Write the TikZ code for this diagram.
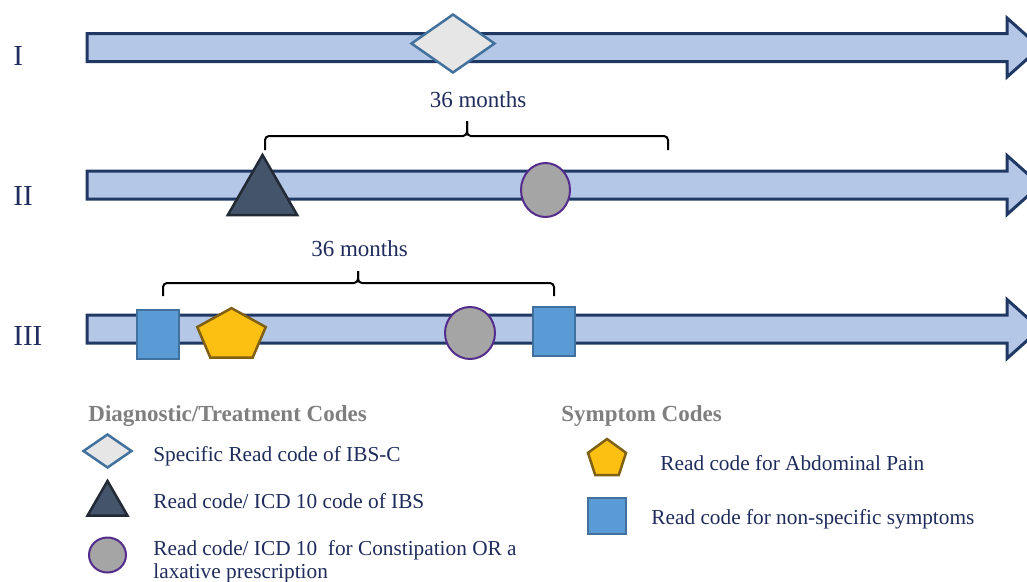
\documentclass[tikz,border=0pt]{standalone}
\usepackage{fontspec}
\setmainfont{Liberation Serif}
\usetikzlibrary{shapes, positioning}
\definecolor{barfill}{RGB}{180,199,231}
\definecolor{bardraw}{RGB}{32,56,100}
\definecolor{navy}{RGB}{31,44,92}
\definecolor{headgrey}{RGB}{127,127,127}
\definecolor{diamfill}{RGB}{231,230,230}
\definecolor{bluedraw}{RGB}{65,113,156}
\definecolor{trifill}{RGB}{68,84,106}
\definecolor{tridraw}{RGB}{34,42,53}
\definecolor{circfill}{RGB}{165,165,165}
\definecolor{circdraw}{RGB}{84,44,140}
\definecolor{pentfill}{RGB}{252,192,18}
\definecolor{pentdraw}{RGB}{127,96,20}
\definecolor{sqfill}{RGB}{91,155,213}
\tikzstyle{bar}=[draw=bardraw, fill=barfill, line width=3pt, line join=miter]
\tikzstyle{ibsc}=[diamond, draw=bluedraw, fill=diamfill, line width=2.5pt, inner sep=0pt]
\tikzstyle{ibs}=[regular polygon, regular polygon sides=3, draw=tridraw, fill=trifill, line width=2.5pt, inner sep=0pt]
\tikzstyle{constip}=[ellipse, draw=circdraw, fill=circfill, line width=2pt, inner sep=0pt]
\tikzstyle{pain}=[regular polygon, regular polygon sides=5, draw=pentdraw, fill=pentfill, line width=2.5pt, inner sep=0pt]
\tikzstyle{nonspec}=[rectangle, draw=bluedraw, fill=sqfill, line width=2.5pt, inner sep=0pt]
\tikzstyle{brace}=[draw=black, line width=2pt, rounded corners=4pt]
\tikzstyle{txt}=[text=navy, inner sep=0pt, anchor=base west, font=\fontsize{21.3}{25}\selectfont]
\tikzstyle{months}=[text=navy, inner sep=0pt, anchor=base, font=\fontsize{23}{27}\selectfont]
\tikzstyle{rowlab}=[text=navy, inner sep=0pt, anchor=base west, font=\fontsize{29}{33}\selectfont]
\tikzstyle{legtitle}=[text=headgrey, inner sep=0pt, anchor=base west, font=\fontsize{23}{27}\selectfont\bfseries]

\begin{document}
\begin{tikzpicture}[x=1pt, y=-1pt, thick]
\useasboundingbox (0,0) rectangle (1027,581);
%\draw[red] (0,0) rectangle (1027,581);
\foreach \y in {47.5, 185, 329}
  \draw[bar] (87,\y-14) -- (1007,\y-14) -- (1007,\y-29.5) -- (1040,\y) -- (1007,\y+29.5) -- (1007,\y+14) -- (87,\y+14) -- cycle;
\node[rowlab] (r1) at (13,65) {I};
\node[rowlab] (r2) at (13,205) {II};
\node[rowlab] (r3) at (13,345) {III};
% row I
\node[ibsc, minimum width=84pt, minimum height=59pt] (d1) at (453,43.5){};
% row II
\node[months] (m2) at (478,107) {36 months};
\coordinate (b2l) at (265,150); \coordinate (b2c) at (467,136);
\coordinate (b2m) at (467,121); \coordinate (b2r) at (668,150);
\draw[brace] (b2l) |- (b2c) -- (b2m);
\draw[brace] (b2m) -- (b2c) -| (b2r);
\node[ibs, minimum size=80pt] (t2) at (262.5,195){};
\node[constip, minimum width=49pt, minimum height=54pt] (c2) at (545.5,190){};
% row III
\node[months] (m3) at (359.5,256) {36 months};
\coordinate (b3l) at (163,296); \coordinate (b3c) at (358,283);
\coordinate (b3m) at (358,271); \coordinate (b3r) at (554,296);
\draw[brace] (b3l) |- (b3c) -- (b3m);
\draw[brace] (b3m) -- (b3c) -| (b3r);
\node[nonspec, minimum width=42pt, minimum height=49pt] (s3a) at (158,334.5){};
\node[pain, minimum size=72pt, yscale=0.76, transform shape] (p3) at (231.5,335.5){};
\node[constip, minimum width=50pt, minimum height=52pt] (c3) at (470,333){};
\node[nonspec, minimum width=42pt, minimum height=49pt] (s3b) at (554,331.5){};
% legend
\node[legtitle] (h1) at (88,421) {Diagnostic/Treatment Codes};
\node[legtitle] (h2) at (561,421) {Symptom Codes};
\node[ibsc, minimum width=49pt, minimum height=34pt] (ld) at (107.5,451){};
\node[txt] (ldt) at (153,461) {Specific Read code of IBS-C};
\node[ibs, minimum size=46pt] (lt) at (107.5,504){};
\node[txt] (ltt) at (153,508) {Read code/ ICD 10 code of IBS};
\node[constip, minimum width=37pt, minimum height=35pt] (lc) at (107.5,555){};
\node[txt] (lct) at (153,555) {Read code/ ICD 10\ \ for Constipation OR a};
\node[txt] (lct2) at (153,578) {laxative prescription};
\node[pain, minimum size=40pt] (lp) at (607,459){};
\node[txt] (lpt) at (660,470) {Read code for Abdominal Pain};
\node[nonspec, minimum width=38pt, minimum height=36pt] (ls) at (607,516){};
\node[txt] (lst) at (651,524) {Read code for non-specific symptoms};
\end{tikzpicture}
\end{document}
